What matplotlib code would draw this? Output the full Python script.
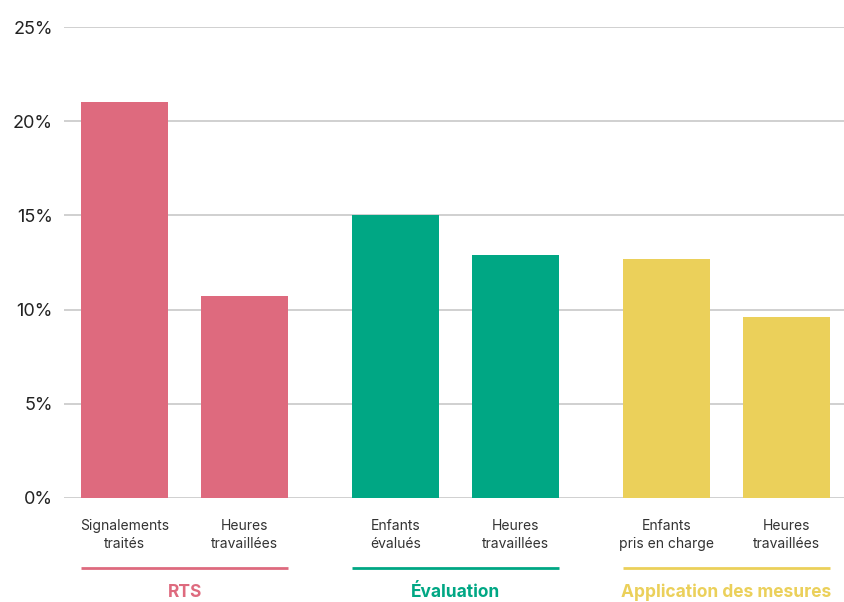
import matplotlib
matplotlib.use("Agg")
import matplotlib.pyplot as plt

plt.rcParams['font.family'] = ['Inter', 'DejaVu Sans']

categories = ["Signalements\ntraités", "Heures\ntravaillées",
              "Enfants\névalués", "Heures\ntravaillées",
              "Enfants\npris en charge", "Heures\ntravaillées"]
values = [21.0, 10.7, 15.0, 12.9, 12.7, 9.6]
groups = ["RTS", "Évaluation", "Application des mesures"]
group_colors = ["#DE6A7E", "#00A784", "#EBD05A"]
yticks = [0, 5, 10, 15, 20, 25]
ytick_labels = ["0%", "5%", "10%", "15%", "20%", "25%"]

fig = plt.figure(figsize=(8.44, 6.02), dpi=100)
ax = fig.add_axes([64/844, 104/602, 780/844, 471/602])

unit = 120.4
group_gap = 1.25
width = 87 / unit
positions = []
for g in range(3):
    for j in range(2):
        positions.append(g * (1 + group_gap) + j)
colors = [group_colors[i // 2] for i in range(6)]

ax.bar(positions, values, width=width, color=colors, zorder=3)

ax.set_ylim(0, 25)
ax.set_xlim(positions[0] - 60.5/unit, positions[0] + 719.5/unit)
ax.set_yticks(yticks)
ax.set_yticklabels(ytick_labels, fontsize=13, color="#222222")
ax.tick_params(axis='y', length=0, pad=8)
ax.set_xticks([])
ax.grid(axis='y', color="#C8C8C8", linewidth=1.2, zorder=0)
for s in ax.spines.values():
    s.set_visible(False)

tr = ax.get_xaxis_transform()
for p, lab in zip(positions, categories):
    ax.text(p, -0.078, lab, transform=tr, ha='center', va='center',
            fontsize=10, color="#333333", linespacing=1.35)

for g in range(3):
    x0 = positions[2*g] - width/2
    x1 = positions[2*g+1] + width/2
    ax.plot([x0, x1], [-0.1486, -0.1486], transform=tr, color=group_colors[g],
            linewidth=2, clip_on=False, solid_capstyle='butt')
    ax.text((x0 + x1)/2, -0.1996, groups[g], transform=tr, ha='center', va='center',
            fontsize=12.5, fontweight='bold', color=group_colors[g])

fig.savefig("out.png", dpi=100)
